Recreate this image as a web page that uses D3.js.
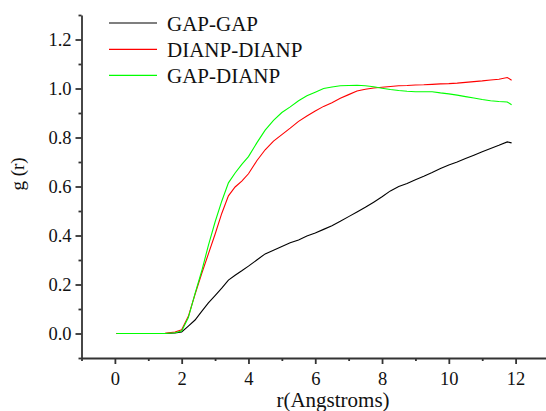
<!DOCTYPE html>
<html>
<head>
<meta charset="utf-8">
<script src="https://cdn.jsdelivr.net/npm/d3@7"></script>
<style>
  body { margin: 0; background: #fff; }
  svg { display: block; }
  svg text { font-family: "Liberation Serif", "Times New Roman", serif !important; }
</style>
</head>
<body>
<main></main>
<script>
// r values shared by all three curves
const rValues = [0.05, 0.5, 1.0, 1.5, 1.8, 2.0, 2.2, 2.4, 2.6, 2.8, 3.0, 3.2, 3.4, 3.6, 3.8, 4.0,
  4.25, 4.5, 4.75, 5.0, 5.25, 5.5, 5.75, 6.0, 6.25, 6.5, 6.75, 7.0, 7.25, 7.5, 7.75, 8.0,
  8.25, 8.5, 8.75, 9.0, 9.25, 9.5, 9.75, 10.0, 10.25, 10.5, 10.75, 11.0, 11.25, 11.5, 11.75, 11.88];

const gapGap = [0, 0, 0, 0, 0.002, 0.006, 0.03, 0.055, 0.09, 0.125, 0.155, 0.185, 0.218, 0.238, 0.256, 0.275,
  0.300, 0.325, 0.340, 0.355, 0.370, 0.382, 0.398, 0.410, 0.425, 0.440, 0.458, 0.477, 0.496, 0.515, 0.536, 0.558,
  0.582, 0.600, 0.612, 0.628, 0.642, 0.657, 0.673, 0.688, 0.700, 0.714, 0.728, 0.742, 0.755, 0.768, 0.782, 0.778];

const dianpDianp = [0, 0, 0, 0.001, 0.006, 0.015, 0.07, 0.16, 0.245, 0.325, 0.405, 0.49, 0.562, 0.598, 0.622, 0.652,
  0.705, 0.750, 0.785, 0.812, 0.838, 0.866, 0.888, 0.908, 0.927, 0.942, 0.960, 0.975, 0.990, 0.997, 1.002, 1.005,
  1.008, 1.011, 1.012, 1.014, 1.015, 1.017, 1.019, 1.020, 1.022, 1.025, 1.028, 1.031, 1.035, 1.038, 1.045, 1.034];

const gapDianp = [0, 0, 0, 0, 0.003, 0.01, 0.065, 0.163, 0.255, 0.36, 0.455, 0.54, 0.615, 0.655, 0.69, 0.722,
  0.778, 0.830, 0.870, 0.902, 0.925, 0.950, 0.970, 0.985, 1.000, 1.006, 1.011, 1.012, 1.013, 1.011, 1.007, 1.001,
  0.996, 0.992, 0.989, 0.987, 0.987, 0.987, 0.982, 0.978, 0.973, 0.967, 0.961, 0.955, 0.950, 0.947, 0.945, 0.934];

const seriesNames = ['GAP-GAP', 'DIANP-DIANP', 'GAP-DIANP'];
const seriesColors = ['#000000', '#ff0000', '#00ff00'];
const seriesValues = [gapGap, dianpDianp, gapDianp];

const xMajorTicks = [0, 2, 4, 6, 8, 10, 12];
const xMinorTicks = [-1, 1, 3, 5, 7, 9, 11, 13];
const yMajorTicks = [0, 0.2, 0.4, 0.6, 0.8, 1.0, 1.2];
const yMinorTicks = [-0.1, 0.1, 0.3, 0.5, 0.7, 0.9, 1.1, 1.3];

// svg size and plot frame
const width = 546;
const height = 411;
const plotLeft = 81.5;
const plotBottom = 358;
const plotTop = 15;
const axisColor = '#333';

const svg = d3.select('main')
  .append('svg')
  .attr('width', width)
  .attr('height', height);

const xScale = d3.scaleLinear()
  .domain([-1, 13])
  .range([plotLeft, 549]);

const yScale = d3.scaleLinear()
  .domain([-0.1, 1.3])
  .range([plotBottom, plotTop]);

// curves
const line = d3.line()
  .x((d) => xScale(d[0]))
  .y((d) => yScale(d[1]));

seriesValues.forEach((vals, i) => {
  svg.append('path')
    .datum(rValues.map((r, j) => [r, vals[j]]))
    .attr('d', line)
    .attr('fill', 'none')
    .attr('stroke', seriesColors[i])
    .attr('stroke-width', 1.1);
});

// axes
function styleAxis(g) {
  g.attr('font-family', null).attr('font-size', 18.5);
  g.selectAll('path, line').attr('stroke', axisColor).attr('stroke-width', 1.8);
  g.selectAll('text').attr('fill', '#111');
}

svg.append('g')
  .attr('transform', `translate(0, ${plotBottom})`)
  .call(d3.axisBottom(xScale).tickValues(xMinorTicks).tickSize(3).tickSizeOuter(0).tickFormat(''))
  .call(styleAxis);

svg.append('g')
  .attr('transform', `translate(0, ${plotBottom})`)
  .call(d3.axisBottom(xScale).tickValues(xMajorTicks).tickSize(6).tickSizeOuter(0).tickPadding(8).tickFormat(d3.format('d')))
  .call(styleAxis)
  .call((g) => g.select('.domain').remove());

svg.append('g')
  .attr('transform', `translate(${plotLeft}, 0)`)
  .call(d3.axisLeft(yScale).tickValues(yMinorTicks).tickSize(3).tickSizeOuter(0).tickFormat(''))
  .call(styleAxis);

svg.append('g')
  .attr('transform', `translate(${plotLeft}, 0)`)
  .call(d3.axisLeft(yScale).tickValues(yMajorTicks).tickSize(6).tickSizeOuter(0).tickPadding(4).tickFormat(d3.format('.1f')))
  .call(styleAxis)
  .call((g) => g.select('.domain').remove());

// axis titles
svg.append('text')
  .text('r(Angstroms)')
  .attr('x', 333)
  .attr('y', 407)
  .attr('text-anchor', 'middle')
  .attr('font-size', 21)
  .attr('fill', '#111');

svg.append('text')
  .text('g (r)')
  .attr('transform', 'translate(24, 174) rotate(-90)')
  .attr('text-anchor', 'middle')
  .attr('font-size', 19)
  .attr('fill', '#111');

// legend
const legendY = [23, 49.3, 75.3];
seriesNames.forEach((name, i) => {
  svg.append('line')
    .attr('x1', 109)
    .attr('x2', 157)
    .attr('y1', legendY[i])
    .attr('y2', legendY[i])
    .attr('stroke', seriesColors[i])
    .attr('stroke-width', 1.2);

  svg.append('text')
    .text(name)
    .attr('x', 167)
    .attr('y', legendY[i] + 7.5)
    .attr('font-size', 21)
    .attr('fill', '#111');
});
</script>
</body>
</html>
